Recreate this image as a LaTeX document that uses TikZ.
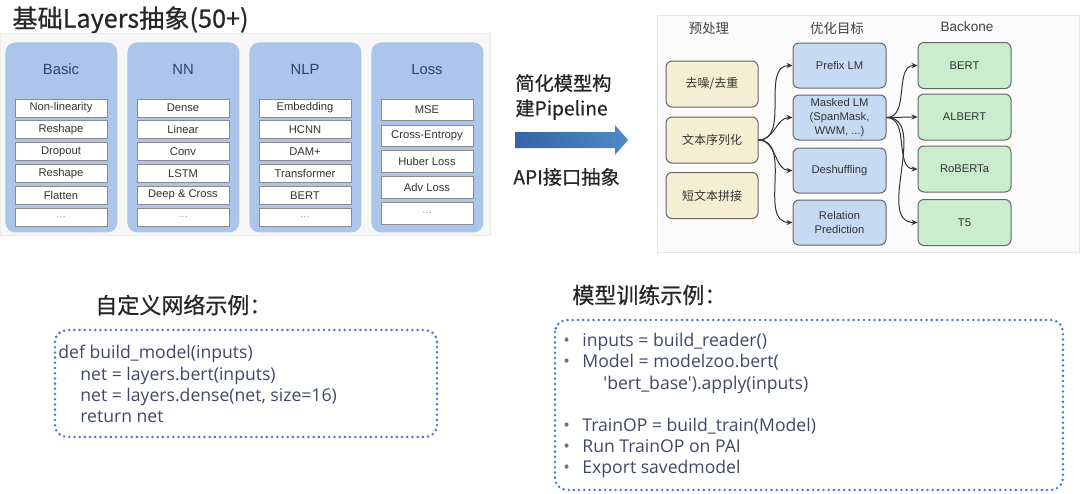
\documentclass[tikz,border=0pt]{standalone}
\usepackage{fontspec}
\setmainfont{Liberation Sans}
\newfontfamily\cjk{Noto Sans CJK SC}
\newfontfamily\cjkhead{Noto Sans CJK SC}[FakeBold=0.7]
\newfontfamily\codefont{Open Sans}
\usetikzlibrary{positioning,arrows.meta}

\definecolor{colblue}{HTML}{ABC6EA}
\definecolor{headblue}{HTML}{2B4670}
\definecolor{prefill}{HTML}{F4EFD2}
\definecolor{objfill}{HTML}{C6DBF3}
\definecolor{bbfill}{HTML}{C9EDCD}
\definecolor{dotblue}{HTML}{4A78C8}
\definecolor{codegray}{HTML}{3F4866}
\definecolor{arrowdark}{HTML}{3464A3}
\definecolor{arrowlight}{HTML}{5089C8}

\tikzset{
  layercol/.style={fill=colblue, rounded corners=5pt, minimum width=56pt, minimum height=95pt, anchor=north west},
  colhead/.style={text=headblue, font=\fontsize{7.4}{8}\selectfont},
  item/.style={draw=black!45, fill=white, line width=0.4pt, minimum width=46pt, minimum height=9pt, inner sep=0pt, text=black!80, font=\fontsize{5.6}{6.5}\selectfont},
  lossitem/.style={item, minimum height=10.75pt},
  stage/.style={draw=black!60, line width=0.5pt, rounded corners=3pt, minimum width=46pt, minimum height=23pt, inner sep=1pt, align=center, text=black!80, font=\fontsize{5.6}{6.8}\selectfont},
  prebox/.style={stage, fill=prefill, font=\cjk\fontsize{6}{7}\selectfont},
  objbox/.style={stage, fill=objfill, minimum width=46.5pt, minimum height=22.5pt},
  bbbox/.style={stage, fill=bbfill, minimum width=46.5pt},
  link/.style={draw=black!80, line width=0.5pt, -{Stealth[length=3pt,width=2.6pt]}},
  dotbox/.style={draw=dotblue, line width=1.4pt, line cap=round, dash pattern=on 0pt off 2.6pt, rounded corners=6pt},
  code/.style={text=codegray, align=left, anchor=north west, inner sep=0pt, font=\codefont\fontsize{8.8}{10.6}\selectfont},
  heading/.style={inner sep=0pt, text=black!85},
}

\begin{document}
\begin{tikzpicture}[x=0.5pt, y=-0.5pt]
    \useasboundingbox (0,0) rectangle (1080,493);

    % layers
    \node[heading, anchor=west, font=\cjkhead\fontsize{12.6}{14}\selectfont] (title) at (12,20) {基础Layers抽象(50+)};
    \draw[fill=black!3, draw=black!8] (0,33) rectangle (490,235);

    \node[layercol] (colbasic) at (5,42) {};
    \node[layercol] (colnn) at (127,42) {};
    \node[layercol] (colnlp) at (249,42) {};
    \node[layercol] (colloss) at (371,42) {};

    \node[colhead] (hbasic) at (61,69) {Basic};
    \node[colhead] (hnn) at (183,69) {NN};
    \node[colhead] (hnlp) at (305,69) {NLP};
    \node[colhead] (hloss) at (427,69) {Loss};

    \node[item] (b1) at (61,108) {Non-linearity};
    \node[item, below=1.5pt of b1] (b2) {Reshape};
    \node[item, below=1.5pt of b2] (b3) {Dropout};
    \node[item, below=1.5pt of b3] (b4) {Reshape};
    \node[item, below=1.5pt of b4] (b5) {Flatten};
    \node[item, below=1.5pt of b5, text=black!40] (b6) {...};

    \node[item] (n1) at (183,108) {Dense};
    \node[item, below=1.5pt of n1] (n2) {Linear};
    \node[item, below=1.5pt of n2] (n3) {Conv};
    \node[item, below=1.5pt of n3] (n4) {LSTM};
    \node[item, below=1.5pt of n4] (n5) {Deep \& Cross};
    \node[item, below=1.5pt of n5, text=black!40] (n6) {...};

    \node[item] (p1) at (305,108) {Embedding};
    \node[item, below=1.5pt of p1] (p2) {HCNN};
    \node[item, below=1.5pt of p2] (p3) {DAM+};
    \node[item, below=1.5pt of p3] (p4) {Transformer};
    \node[item, below=1.5pt of p4] (p5) {BERT};
    \node[item, below=1.5pt of p5, text=black!40] (p6) {...};

    \node[lossitem] (l1) at (427,110) {MSE};
    \node[lossitem, below=1.75pt of l1] (l2) {Cross-Entropy};
    \node[lossitem, below=1.75pt of l2] (l3) {Huber Loss};
    \node[lossitem, below=1.75pt of l3] (l4) {Adv Loss};
    \node[lossitem, below=1.75pt of l4, text=black!40] (l5) {...};

    % pipeline arrow
    \node[heading, anchor=west, align=left, font=\cjkhead\fontsize{9.6}{12.5}\selectfont] (simp) at (515,97) {简化模型构\\建Pipeline};
    \shade[left color=arrowdark, right color=arrowlight] (515,132) -- (615,132) -- (615,125) -- (628,140) -- (615,155) -- (615,148) -- (515,148) -- cycle;
    \node[heading, anchor=west, font=\cjkhead\fontsize{9.6}{12}\selectfont] (api) at (513,177) {API接口抽象};

    % pipeline panel
    \draw[fill=black!1.5, draw=black!10] (657,15) rectangle (1079,252);
    \node[text=black!75, font=\cjk\fontsize{6.7}{8}\selectfont] (hpre) at (709,28) {预处理};
    \node[text=black!75, font=\cjk\fontsize{6.7}{8}\selectfont] (hobj) at (837,28) {优化目标};
    \node[text=black!75, font=\fontsize{6.8}{8}\selectfont] (hbb) at (967,27) {Backone};

    \node[prebox] (pre1) at (712,84) {去噪/去重};
    \node[prebox] (pre2) at (712,140) {文本序列化};
    \node[prebox] (pre3) at (712,195.5) {短文本拼接};

    \node[objbox] (obj1) at (839.5,65.5) {Prefix LM};
    \node[objbox] (obj2) at (839.5,117.5) {Masked LM\\(SpanMask,\\WWM, ...)};
    \node[objbox] (obj3) at (839.5,170.5) {Deshuffling};
    \node[objbox] (obj4) at (839.5,222.5) {Relation\\Prediction};

    \node[bbbox] (bb1) at (964.5,65.5) {BERT};
    \node[bbbox] (bb2) at (964.5,117) {ALBERT};
    \node[bbbox] (bb3) at (964.5,169) {RoBERTa};
    \node[bbbox] (bb4) at (964.5,222.5) {T5};

    \draw[link] (pre2.east) to[out=0, in=180] (obj1.west);
    \draw[link] (pre2.east) to[out=0, in=180] (obj2.west);
    \draw[link] (pre2.east) to[out=0, in=180] (obj3.west);
    \draw[link] (pre2.east) to[out=0, in=180] (obj4.west);
    \draw[link] (obj2.east) to[out=0, in=180] (bb1.west);
    \draw[link] (obj2.east) to[out=0, in=180] (bb2.west);
    \draw[link] (obj2.east) to[out=0, in=180] (bb3.west);
    \draw[link] (obj2.east) to[out=0, in=180] (bb4.west);

    % examples
    \node[heading, anchor=west, font=\cjkhead\fontsize{11}{12}\selectfont] (hnet) at (95,305) {自定义网络示例：};
    \draw[dotbox] (55,330) rectangle (437,437);
    \node[code] (netcode) at (58,345) {def build\_model(inputs)\\
      \hspace*{11pt}net = layers.bert(inputs)\\
      \hspace*{11pt}net = layers.dense(net, size=16)\\
      \hspace*{11pt}return net};

    \node[heading, anchor=west, font=\cjkhead\fontsize{11}{12}\selectfont] (htrain) at (572,295) {模型训练示例：};
    \draw[dotbox] (555,320) rectangle (1063,490);
    \node[code] (traincode) at (563,333) {\makebox[9.5pt][l]{\textcolor{black!55}{•}}inputs = build\_reader()\\
      \makebox[9.5pt][l]{\textcolor{black!55}{•}}Model = modelzoo.bert(\\
      \hspace*{20pt}'bert\_base').apply(inputs)\\[10.6pt]
      \makebox[9.5pt][l]{\textcolor{black!55}{•}}TrainOP = build\_train(Model)\\
      \makebox[9.5pt][l]{\textcolor{black!55}{•}}Run TrainOP on PAI\\
      \makebox[9.5pt][l]{\textcolor{black!55}{•}}Export savedmodel};
\end{tikzpicture}
\end{document}
